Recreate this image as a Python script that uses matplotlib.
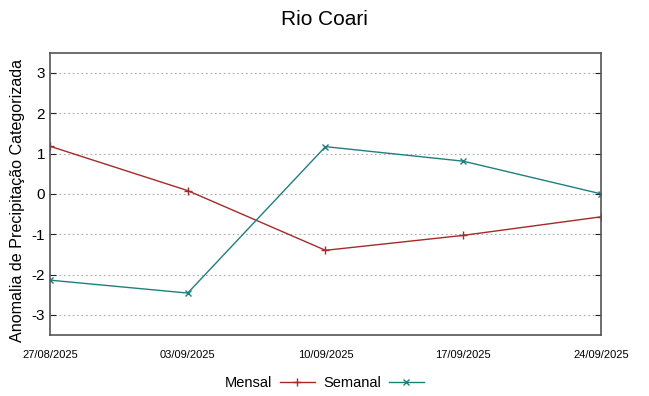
import matplotlib
matplotlib.use("Agg")
import matplotlib.pyplot as plt

# dados
datas = ["27/08/2025", "03/09/2025", "10/09/2025", "17/09/2025", "24/09/2025"]
mensal = [1.18, 0.08, -1.40, -1.03, -0.57]
semanal = [-2.14, -2.46, 1.17, 0.81, 0.0]

plt.rcParams['font.family'] = ['Liberation Sans', 'DejaVu Sans']
plt.rcParams['axes.unicode_minus'] = False

fig = plt.figure(figsize=(6.49, 3.96), dpi=100)
ax = fig.add_axes([0.077, 0.154, 0.849, 0.713])

x = list(range(len(datas)))
ax.plot(x, mensal, color='#a52a2a', lw=1.0, marker='+', ms=6, mew=1.0, label='Mensal')
ax.plot(x, semanal, color='#1f7f7f', lw=1.0, marker='x', ms=5, mew=1.0, label='Semanal')

ax.set_xlim(0, len(datas) - 1)
ax.set_ylim(-3.5, 3.5)
ax.set_xticks(x)
ax.set_xticklabels(datas, fontsize=8)
ax.set_yticks([-3, -2, -1, 0, 1, 2, 3])
ax.tick_params(axis='y', labelsize=11, direction='in', right=True, length=4, color='#222222')
ax.tick_params(axis='x', direction='in', length=0, pad=11)
ax.yaxis.grid(True, linestyle=(0, (1.5, 2.5)), color='#aaaaaa', lw=0.8)
for s in ax.spines.values():
    s.set_color('#555555')
    s.set_linewidth(1.2)

ax.set_ylabel('Anomalia de Precipitação Categorizada', fontsize=11.6)
ax.yaxis.set_label_coords(-0.046, 0.475)
fig.suptitle('Rio Coari', fontsize=15, y=0.975)

fig.legend(loc='lower center', bbox_to_anchor=(0.5, -0.018), ncol=2, frameon=False,
           markerfirst=False, fontsize=10.5, handlelength=2.4, columnspacing=0.6,
           handletextpad=0.5)

fig.savefig('out.png', dpi=100)
